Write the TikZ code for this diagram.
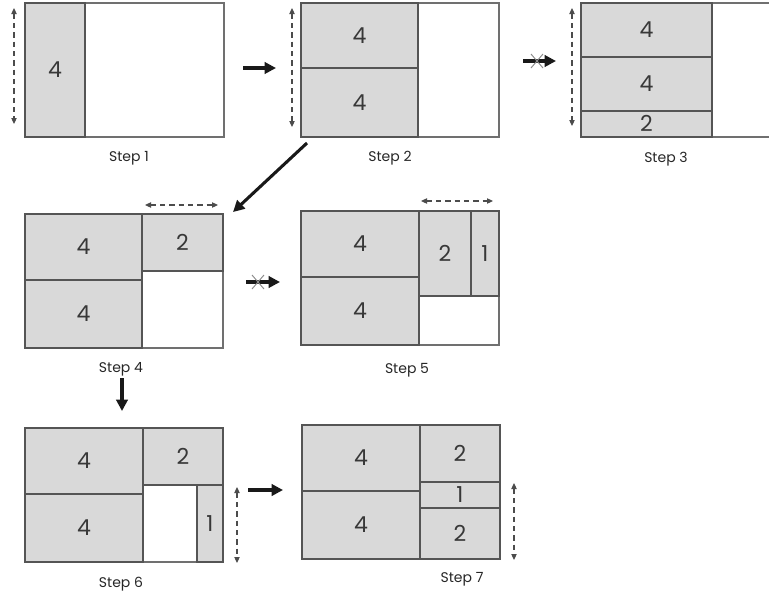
\documentclass[tikz,border=0pt]{standalone}
\usepackage{fontspec}
\setmainfont{Poppins}
\usetikzlibrary{arrows.meta,fit}
\definecolor{cellfill}{HTML}{D9D9D9}
\definecolor{celledge}{HTML}{555555}
\definecolor{frameedge}{HTML}{707070}
\tikzset{
  framebox/.style={draw=frameedge, line width=1pt, fill=white, inner sep=0pt},
  cellbox/.style={draw=celledge, line width=1.3pt, fill=cellfill, inner sep=0pt},
  cellnum/.style={font=\fontsize{16.5}{16.5}\selectfont, text=black!78,
    inner sep=0pt, text height=11.5pt, text depth=0pt},
  steplabel/.style={font=\fontsize{10.5}{11}\selectfont, text=black!85,
    text height=7.5pt, text depth=0pt, inner sep=0pt},
  movearrow/.style={-{Triangle[length=8.5pt,width=8.5pt]}, line width=2.3pt, black!90},
  spanarrow/.style={{Triangle[length=4.5pt,width=4pt]}-{Triangle[length=4.5pt,width=4pt]},
    dash pattern=on 4pt off 3pt, line width=0.8pt, black!70},
  blockmark/.style={draw=black!45, line width=0.7pt},
}
% a filled cell spanning two corners, with its size written in the middle
\newcommand\packcell[4]{%
  \node[cellbox, fit={(#2) (#3)}, label={[cellnum]center:#4}] (#1) {};}
\begin{document}
\begin{tikzpicture}[x=0.75pt, y=-0.75pt]
\clip (0,0) rectangle (769,594);
\fill[white] (0,0) rectangle (769,594);

% Step 1
\node[framebox, fit={(25,3) (224,137)}] (f1) {};
\packcell{s1a}{25,3}{85,137}{4}
\node[steplabel] (c1) at (129,156) {Step 1};
\coordinate (r1t) at (14,8); \coordinate (r1b) at (14,124);
\draw[spanarrow] (r1t) -- (r1b);

% Step 2
\node[framebox, fit={(301,3) (499,137)}] (f2) {};
\packcell{s2a}{301,3}{418,68}{4}
\packcell{s2b}{301,68}{418,137}{4}
\node[steplabel] (c2) at (390,156) {Step 2};
\coordinate (r2t) at (292,8); \coordinate (r2b) at (292,127);
\draw[spanarrow] (r2t) -- (r2b);

% Step 3
\node[framebox, fit={(581,3) (780,137)}] (f3) {};
\packcell{s3a}{581,3}{712,57}{4}
\packcell{s3b}{581,57}{712,111}{4}
\packcell{s3c}{581,111}{712,137}{2}
\node[steplabel] (c3) at (666,157) {Step 3};
\coordinate (r3t) at (572,8); \coordinate (r3b) at (572,126);
\draw[spanarrow] (r3t) -- (r3b);

% Step 4
\node[framebox, fit={(25,214) (223,348)}] (f4) {};
\packcell{s4a}{25,214}{142,280}{4}
\packcell{s4b}{25,280}{142,348}{4}
\packcell{s4c}{142,214}{223,271}{2}
\node[steplabel] (c4) at (121,367) {Step 4};
\coordinate (r4l) at (145,205); \coordinate (r4r) at (218,205);
\draw[spanarrow] (r4l) -- (r4r);

% Step 5
\node[framebox, fit={(301,211) (499,345)}] (f5) {};
\packcell{s5a}{301,211}{419,277}{4}
\packcell{s5b}{301,277}{419,345}{4}
\packcell{s5c}{419,211}{471,296}{2}
\packcell{s5d}{471,211}{499,296}{1}
\node[steplabel] (c5) at (407,368) {Step 5};
\coordinate (r5l) at (421,201); \coordinate (r5r) at (493,201);
\draw[spanarrow] (r5l) -- (r5r);

% Step 6
\node[framebox, fit={(25,428) (223,562)}] (f6) {};
\packcell{s6a}{25,428}{143,494}{4}
\packcell{s6b}{25,494}{143,562}{4}
\packcell{s6c}{143,428}{223,485}{2}
\packcell{s6d}{197,485}{223,562}{1}
\node[steplabel] (c6) at (121,582) {Step 6};
\coordinate (r6t) at (237,487); \coordinate (r6b) at (237,563);
\draw[spanarrow] (r6t) -- (r6b);

% Step 7
\node[framebox, fit={(302,425) (500,559)}] (f7) {};
\packcell{s7a}{302,425}{420,491}{4}
\packcell{s7b}{302,491}{420,559}{4}
\packcell{s7c}{420,425}{500,482}{2}
\packcell{s7d}{420,482}{500,508}{1}
\packcell{s7e}{420,508}{500,559}{2}
\node[steplabel] (c7) at (462,577) {Step 7};
\coordinate (r7t) at (514,483); \coordinate (r7b) at (514,560);
\draw[spanarrow] (r7t) -- (r7b);

% moves between steps
\coordinate (m12a) at (243,68);  \coordinate (m12b) at (276,68);
\draw[movearrow] (m12a) -- (m12b);

\coordinate (m23a) at (523,61);  \coordinate (m23b) at (556,61);
\coordinate (x23) at (537,61);
\draw[movearrow] (m23a) -- (m23b);
\draw[blockmark] (x23) ++(-6,-7) -- ++(12,14);
\draw[blockmark] (x23) ++(-6,7) -- ++(12,-14);

\coordinate (m24a) at (307,143); \coordinate (m24b) at (233,212);
\draw[movearrow] (m24a) -- (m24b);

\coordinate (m45a) at (246,282); \coordinate (m45b) at (280,282);
\coordinate (x45) at (258,282);
\draw[movearrow] (m45a) -- (m45b);
\draw[blockmark] (x45) ++(-6,-7) -- ++(12,14);
\draw[blockmark] (x45) ++(-6,7) -- ++(12,-14);

\coordinate (m46a) at (122,378); \coordinate (m46b) at (122,411);
\draw[movearrow] (m46a) -- (m46b);

\coordinate (m67a) at (248,490); \coordinate (m67b) at (283,490);
\draw[movearrow] (m67a) -- (m67b);
\end{tikzpicture}
\end{document}
